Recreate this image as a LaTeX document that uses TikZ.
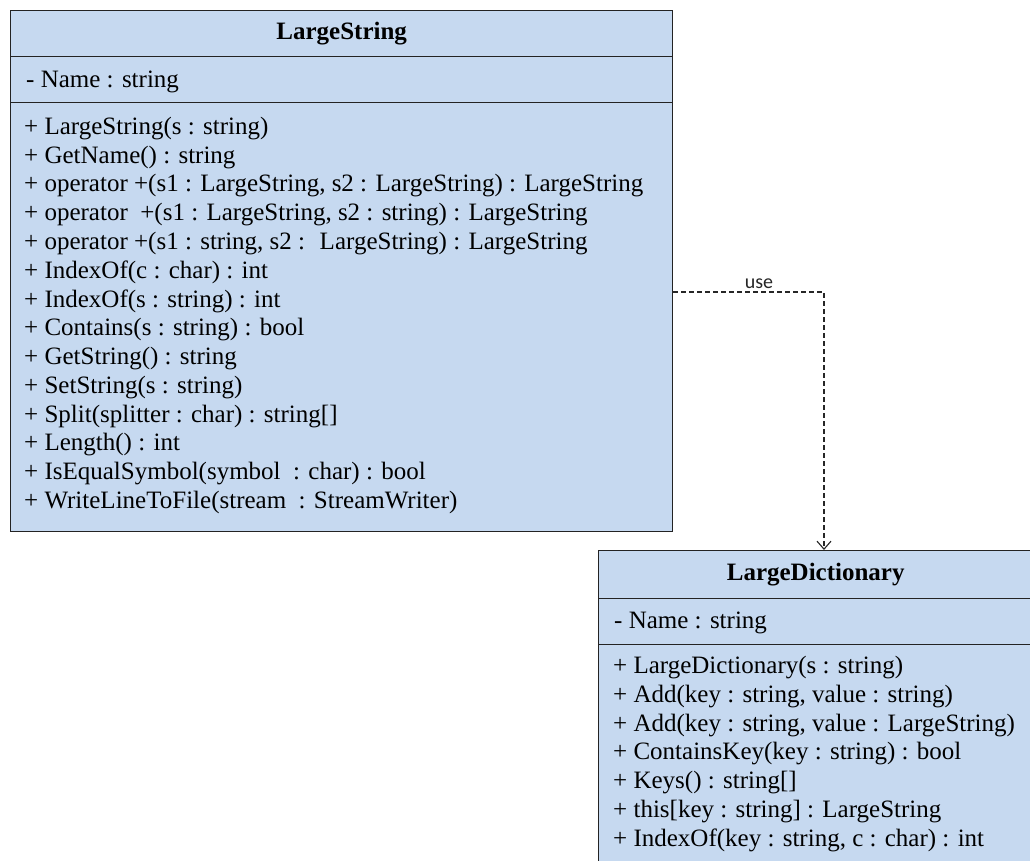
\documentclass[tikz,border=0pt]{standalone}
\usepackage{fontspec}
\setmainfont{Liberation Serif}
\newfontfamily\memberfont{Liberation Serif}
\newfontfamily\labelfont{Carlito}
\usetikzlibrary{arrows.meta}
\definecolor{classfill}{RGB}{198,217,240}
\definecolor{classline}{RGB}{35,35,35}
\begin{document}
\begin{tikzpicture}[x=1pt,y=-1pt,
  compart/.style={draw=classline, line width=1.4pt, fill=classfill, rectangle, inner sep=0pt, anchor=north west},
  member/.style={anchor=base west, inner sep=0pt, font=\memberfont\fontsize{25}{29}\selectfont, text=black},
  classname/.style={font=\memberfont\bfseries\fontsize{25}{29}\selectfont},
  uselink/.style={draw=black!85, line width=1.1pt, dash pattern=on 5pt off 3pt, -{Straight Barb[length=8pt,width=14pt]}}]
\useasboundingbox (0,0) rectangle (1030,861);
\clip (0,0) rectangle (1030,861);
% LargeString
\node[compart, classname, minimum width=662pt, minimum height=46pt] (lsh) at (10,10) {LargeString};
\node[compart, minimum width=662pt, minimum height=46pt] (lsa) at (10,56) {};
\node[compart, minimum width=662pt, minimum height=429pt] (lsm) at (10,102) {};
\node[member] (lsa1) at (26,88) {- Name : string};
\foreach \t [count=\i] in {
  {+ LargeString(s : string)},
  {+ GetName() : string},
  {+ operator +(s1 : LargeString, s2 : LargeString) : LargeString},
  {+ operator \ +(s1 : LargeString, s2 : string) : LargeString},
  {+ operator +(s1 : string, s2 : \ LargeString) : LargeString},
  {+ IndexOf(c : char) : int},
  {+ IndexOf(s : string) : int},
  {+ Contains(s : string) : bool},
  {+ GetString() : string},
  {+ SetString(s : string)},
  {+ Split(splitter : char) : string[]},
  {+ Length() : int},
  {+ IsEqualSymbol(symbol \ : char) : bool},
  {+ WriteLineToFile(stream \ : StreamWriter)}}
  \node[member] (lsm\i) at (24,{134.5+28.75*(\i-1)}) {\t};
% LargeDictionary
\node[compart, classname, minimum width=434pt, minimum height=48pt] (ldh) at (598,550) {LargeDictionary};
\node[compart, minimum width=434pt, minimum height=46pt] (lda) at (598,598) {};
\node[compart, minimum width=434pt, minimum height=240pt] (ldm) at (598,644) {};
\node[member] (lda1) at (614,628) {- Name : string};
\foreach \t [count=\i] in {
  {+ LargeDictionary(s : string)},
  {+ Add(key : string, value : string)},
  {+ Add(key : string, value : LargeString)},
  {+ ContainsKey(key : string) : bool},
  {+ Keys() : string[]},
  {+ this[key : string] : LargeString},
  {+ IndexOf(key : string, c : char) : int}}
  \node[member] (ldm\i) at (613,{673.5+28.8*(\i-1)}) {\t};
% use dependency
\coordinate (bend) at (824,292);
\draw[uselink] (lsm.east |- bend) -- (bend) -- (bend |- ldh.north);
\node[anchor=base, inner sep=0pt, font=\labelfont\fontsize{20}{24}\selectfont, text=black!85] (uselabel) at (759,288) {use};
\end{tikzpicture}
\end{document}
